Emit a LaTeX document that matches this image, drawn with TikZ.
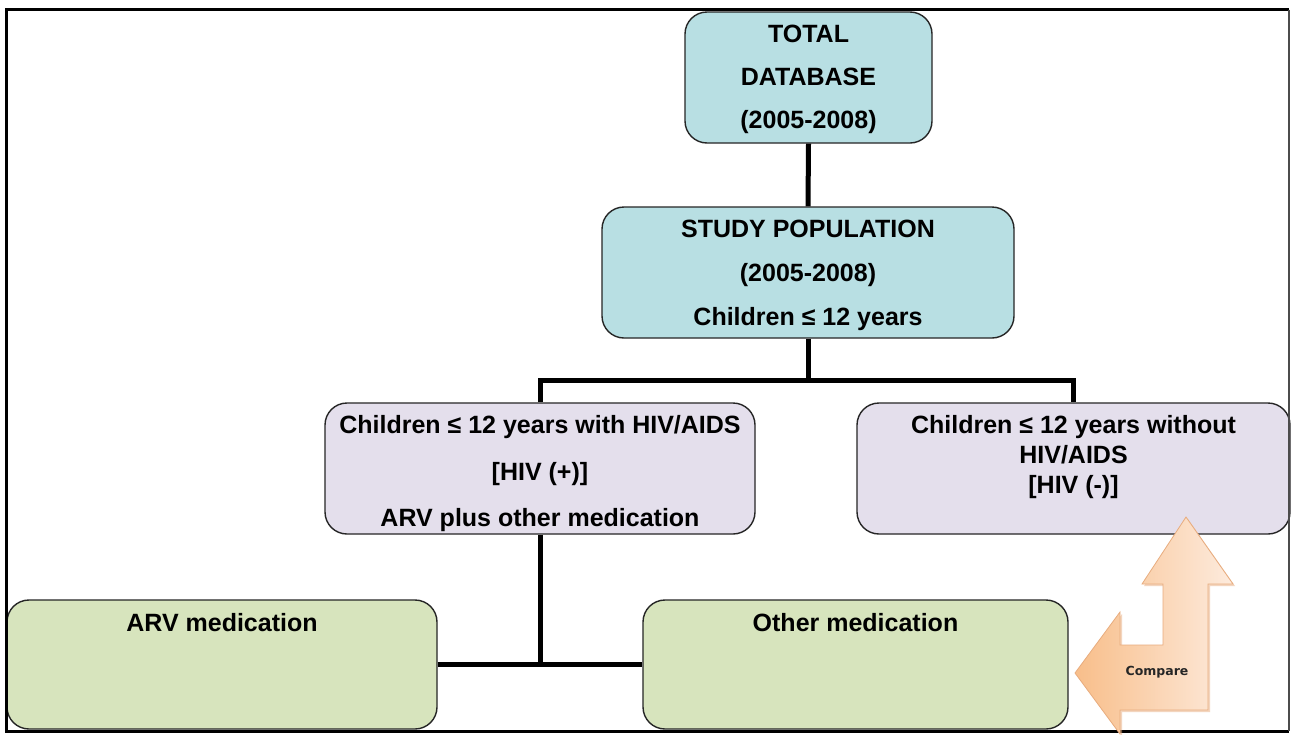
\documentclass[tikz,border=0pt]{standalone}
\usepackage{fontspec}
\setmainfont{Liberation Sans}
\newfontfamily\cmpfont{DejaVu Sans}
\definecolor{tealfill}{HTML}{B8DFE3}
\definecolor{lilacfill}{HTML}{E4DFEC}
\definecolor{greenfill}{HTML}{D7E4BD}
\definecolor{arrowA}{HTML}{F8BE8A}
\definecolor{arrowB}{HTML}{FDEBDD}
\definecolor{arrowedge}{HTML}{E8AC7E}
\begin{document}
\begin{tikzpicture}[x=1pt,y=-1pt,
  box/.style={draw=black!85, line width=1.4pt, rounded corners=22pt, inner sep=0pt},
  tealbox/.style={box, fill=tealfill},
  lilacbox/.style={box, fill=lilacfill},
  greenbox/.style={box, fill=greenfill},
  txt/.style={align=center, inner sep=0pt, font=\bfseries\fontsize{25}{#1}\selectfont},
  txt/.default=28,
  link/.style={line width=5pt, black}]
\useasboundingbox (0,0) rectangle (1291,734);
\fill[white] (0,0) rectangle (1291,734);

% boxes
\node[tealbox, minimum width=247pt, minimum height=131pt] (total) at (808.5,77.5) {};
\node[tealbox, minimum width=412pt, minimum height=131pt] (study) at (808,272.5) {};
\node[lilacbox, minimum width=430pt, minimum height=131pt] (hivpos) at (540,468.5) {};
\node[lilacbox, minimum width=433pt, minimum height=131pt] (hivneg) at (1073.5,468.5) {};
\node[greenbox, minimum width=430pt, minimum height=129pt] (arv) at (222,664.5) {};
\node[greenbox, minimum width=425pt, minimum height=129pt] (other) at (855.5,664.5) {};

% texts
\node[txt=43] (totalT) at (808.5,79) {TOTAL\\DATABASE\\(2005-2008)};
\node[txt=44] (studyT) at (808,275) {STUDY POPULATION\\(2005-2008)\\Children ≤ 12 years};
\node[txt=46.5] (hivposT) at (540,474) {Children ≤ 12 years with HIV/AIDS\\{}[HIV (+)]\\ARV plus other medication};
\node[txt=30] (hivnegT) at (1073.5,457) {Children ≤ 12 years without\\HIV/AIDS\\{}[HIV (-)]};
\node[txt] (arvT) at (222,623) {ARV medication};
\node[txt] (otherT) at (855.5,623) {Other medication};

% connectors
\draw[link] (total.south) -- (study.north);
\draw[link] (study.south) -- ++(0,42) coordinate (fork);
\draw[link, line join=miter] (hivpos.north) |- (fork) -| (hivneg.north);
\draw[link] (hivpos.south) -- (hivpos.south |- arv.east) coordinate (join);
\draw[link] (arv.east) -- (other.west);

% frame
\draw[line width=3pt] (1289,9.5) -- (6.5,9.5) -- (6.5,731) -- (1289,731);
\draw[line width=1.5pt, black!70] (1289,9.5) -- (1289,731);

% compare arrow
\fill[arrowedge, opacity=0.5] (1188,519) -- (1235,586) -- (1210,586) -- (1210,712) -- (1122,712) -- (1122,736) -- (1077,675) -- (1122,614) -- (1122,647) -- (1165,647) -- (1165,586) -- (1144,586) -- cycle;
\path[left color=arrowA, right color=arrowB, draw=arrowedge, line width=0.8pt]
  (1186,517) -- (1233,584) -- (1208,584) -- (1208,710) -- (1120,710) -- (1120,734) -- (1075,673) -- (1120,612) -- (1120,645) -- (1163,645) -- (1163,584) -- (1142,584) -- cycle;
\node[font=\cmpfont\bfseries\fontsize{12.5}{15}\selectfont, text=black!85] (cmp) at (1157,672) {Compare};
\end{tikzpicture}
\end{document}
